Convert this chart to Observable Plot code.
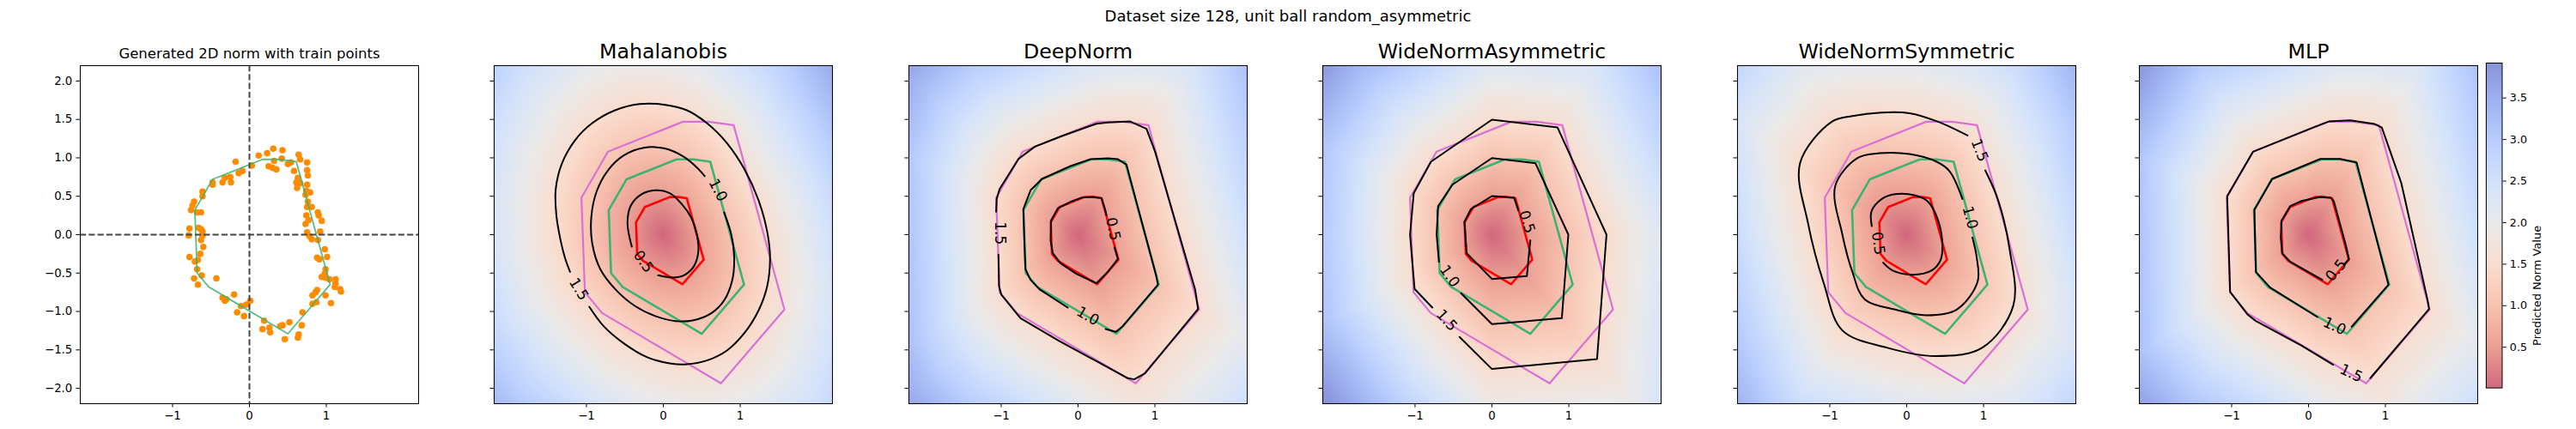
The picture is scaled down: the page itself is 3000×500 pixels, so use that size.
<!DOCTYPE html>
<html><head><meta charset="utf-8">
<script src="https://cdn.jsdelivr.net/npm/d3@7"></script>
<script src="https://cdn.jsdelivr.net/npm/@observablehq/plot@0.6"></script>
<style>
body{margin:0;background:#fff;font-family:"DejaVu Sans",sans-serif;}
#fig{position:relative;width:3000px;height:500px;overflow:hidden;}
.panel{position:absolute;top:0;}
.panel svg{overflow:visible;}
#suptitle{position:absolute;left:0;width:3000px;top:10px;text-align:center;font-size:18px;line-height:18px;font-family:"DejaVu Sans";}
</style></head><body>
<div id="fig"><div id="suptitle">Dataset size 128, unit ball random_asymmetric</div></div>
<script>
// ---------- data ----------
const suptitle = "Dataset size 128, unit ball random_asymmetric";
const panelTitles = ["Generated 2D norm with train points","Mahalanobis","DeepNorm","WideNormAsymmetric","WideNormSymmetric","MLP"];
const levels = [0.5, 1.0, 1.5];
const axisTicksX = [-1, 0, 1];
const axisTicksY = [-2, -1.5, -1, -0.5, 0, 0.5, 1, 1.5, 2];
const cbarTicks = [0.5, 1.0, 1.5, 2.0, 2.5, 3.0, 3.5];
const cbarDomain = [0.01, 3.92];
const cbarLabel = "Predicted Norm Value";

// true unit ball (level 1.0) of the generated norm
const unitBall = [[-0.48,0.72],[0.17,0.98],[0.39,0.98],[0.61,0.95],[1.05,-0.65],[0.50,-1.29],[-0.53,-0.68],[-0.68,-0.50],[-0.71,0.32]];

const trainPoints = [[-0.18,0.95],[0.12,1.03],[0.23,1.06],[0.31,1.12],[0.43,1.10],[0.64,1.04],[0.66,0.98],[0.75,0.94],[0.03,0.90],[0.32,0.96],[0.42,0.99],[0.25,0.89],[0.30,0.87],[0.35,0.85],[0.50,0.92],[0.54,0.94],[0.58,0.83],[0.75,0.84],[0.76,0.77],[0.63,0.74],[0.61,0.68],[0.66,0.67],[0.62,0.61],[0.75,0.65],[0.74,0.57],[0.79,0.55],[0.73,0.52],[0.76,0.43],[0.75,0.36],[0.81,0.36],[0.74,0.25],[0.77,0.19],[0.89,0.29],[0.90,0.25],[0.94,0.18],[0.73,0.14],[0.92,0.04],[0.75,0.03],[0.78,-0.02],[0.81,-0.06],[0.89,-0.07],[0.98,-0.19],[0.88,-0.30],[0.91,-0.32],[1.01,-0.29],[0.99,-0.45],[0.98,-0.51],[0.94,-0.55],[0.99,-0.56],[1.04,-0.58],[1.12,-0.58],[1.12,-0.63],[1.11,-0.68],[1.18,-0.71],[1.19,-0.74],[1.06,-0.89],[0.99,-0.79],[0.88,-0.72],[0.86,-0.75],[0.82,-0.79],[0.87,-0.88],[0.82,-0.90],[0.69,-1.01],[0.68,-1.18],[0.64,-1.30],[0.63,-1.34],[0.52,-1.14],[0.43,-1.18],[0.40,-1.19],[0.46,-1.36],[0.19,-1.12],[0.17,-1.23],[0.26,-1.21],[0.27,-1.27],[0.01,-0.86],[-0.04,-0.91],[-0.07,-1.06],[-0.16,-1.01],[-0.11,-0.93],[-0.20,-0.78],[-0.30,-0.84],[-0.32,-0.86],[-0.35,-0.82],[-0.43,-0.57],[-0.62,-0.53],[-0.72,-0.57],[-0.67,-0.65],[-0.68,-0.45],[-0.71,-0.35],[-0.67,-0.33],[-0.64,-0.25],[-0.78,-0.29],[-0.60,-0.16],[-0.63,-0.07],[-0.61,-0.01],[-0.79,-0.01],[-0.78,0.08],[-0.61,0.04],[-0.63,0.07],[-0.66,0.09],[-0.63,0.29],[-0.68,0.29],[-0.74,0.38],[-0.76,0.32],[-0.72,0.43],[-0.61,0.56],[-0.61,0.50],[-0.48,0.68],[-0.48,0.65],[-0.35,0.68],[-0.32,0.74],[-0.25,0.75],[-0.24,0.68],[-0.14,0.80],[-0.09,0.83]];

// predicted contours (levels 0.5, 1.0, 1.5), open where the label sits
const mahalanobisContours = [
 [[-0.41,-0.156],[-0.466,0.149],[-0.422,0.38],[-0.291,0.521],[-0.104,0.577],[0.082,0.54],[0.231,0.409],[0.362,0.223],[0.437,0.0],[0.455,-0.223],[0.399,-0.409],[0.269,-0.528],[0.119,-0.558],[-0.067,-0.528]],
 [[0.791,0.29],[0.884,0.0],[0.922,-0.298],[0.896,-0.595],[0.791,-0.856],[0.623,-1.023],[0.381,-1.116],[0.157,-1.124],[-0.104,-1.06],[-0.366,-0.93],[-0.627,-0.707],[-0.821,-0.447],[-0.925,-0.112],[-0.937,0.223],[-0.869,0.558],[-0.72,0.837],[-0.515,1.031],[-0.254,1.131],[0.007,1.124],[0.269,1.012],[0.455,0.856],[0.537,0.763]],
 [[-0.963,-0.938],[-0.776,-1.191],[-0.515,-1.414],[-0.216,-1.593],[0.082,-1.674],[0.306,-1.686],[0.567,-1.637],[0.828,-1.507],[1.052,-1.284],[1.239,-0.986],[1.351,-0.67],[1.388,-0.298],[1.351,0.037],[1.239,0.447],[1.052,0.856],[0.828,1.191],[0.567,1.451],[0.306,1.619],[0.007,1.693],[-0.31,1.7],[-0.627,1.619],[-0.925,1.451],[-1.149,1.228],[-1.317,0.93],[-1.399,0.595],[-1.392,0.26],[-1.336,-0.074],[-1.28,-0.298],[-1.213,-0.484]]
];
const deepNormContours = [
 [[0.473,-0.167],[0.518,-0.316],[0.387,-0.484],[0.238,-0.633],[-0.022,-0.51],[-0.227,-0.372],[-0.328,-0.242],[-0.358,-0.074],[-0.35,0.186],[-0.264,0.342],[-0.097,0.428],[0.052,0.484],[0.201,0.491],[0.305,0.476],[0.35,0.335],[0.369,0.253]],
 [[0.358,-1.228],[0.492,-1.265],[0.574,-1.198],[1.039,-0.651],[1.013,-0.521],[0.629,0.912],[0.518,0.982],[0.387,0.993],[0.164,0.982],[-0.097,0.893],[-0.469,0.726],[-0.618,0.577],[-0.711,0.335],[-0.7,-0.037],[-0.685,-0.447],[-0.618,-0.588],[-0.499,-0.714],[-0.134,-0.949]],
 [[-1.035,-0.26],[-1.028,-0.67],[-0.998,-0.781],[-0.749,-1.087],[-0.246,-1.384],[0.648,-1.868],[0.73,-1.883],[0.871,-1.805],[1.561,-0.967],[1.523,-0.714],[1.002,1.079],[0.89,1.377],[0.678,1.473],[0.387,1.459],[0.238,1.444],[-0.209,1.284],[-0.562,1.146],[-0.775,0.986],[-1.02,0.595],[-1.058,0.465],[-1.065,0.298]]
];
const wideAsymContours = [
 [[0.499,-0.074],[0.454,-0.54],[0.0,-0.577],[-0.328,-0.242],[-0.358,0.167],[-0.272,0.335],[0.0,0.502],[0.287,0.484],[0.343,0.316]],
 [[-0.402,-0.763],[0.0,-1.165],[0.909,-1.087],[0.994,0.0],[0.566,0.93],[0.0,0.997],[-0.514,0.651],[-0.7,0.372],[-0.719,0.0],[-0.689,-0.353]],
 [[-0.421,-1.332],[0.0,-1.749],[1.367,-1.619],[1.49,0.0],[0.853,1.395],[0.0,1.496],[-0.793,0.949],[-1.017,0.54],[-1.065,0.0],[-1.006,-0.707],[-0.775,-0.949]]
];
const wideSymContours = [
 [[-0.305,-0.365],[-0.186,-0.465],[0.074,-0.521],[0.327,-0.465],[0.439,-0.335],[0.465,-0.149],[0.409,0.186],[0.279,0.428],[0.112,0.51],[-0.149,0.528],[-0.323,0.465],[-0.457,0.305],[-0.454,0.112]],
 [[0.855,-0.037],[0.911,-0.298],[0.922,-0.614],[0.651,-0.975],[0.26,-1.049],[-0.149,-0.975],[-0.55,-0.837],[-0.706,-0.484],[-0.836,0.0],[-0.929,0.633],[-0.639,0.997],[-0.353,1.06],[0.037,1.049],[0.39,0.949],[0.558,0.826],[0.725,0.465]],
 [[1.022,0.837],[1.19,0.447],[1.338,-0.186],[1.387,-0.923],[0.985,-1.47],[0.372,-1.581],[-0.26,-1.47],[-0.836,-1.247],[-1.078,-0.633],[-1.283,0.149],[-1.387,0.93],[-0.974,1.47],[-0.706,1.544],[-0.335,1.589],[0.037,1.581],[0.409,1.47],[0.792,1.291]]
];
const mlpContours = [
 [[0.462,-0.391],[0.525,-0.316],[0.488,-0.149],[0.328,0.439],[0.283,0.484],[0.153,0.491],[-0.089,0.439],[-0.238,0.372],[-0.35,0.186],[-0.361,-0.037],[-0.343,-0.242],[-0.238,-0.353],[0.179,-0.588]],
 [[0.562,-1.198],[1.039,-0.651],[0.626,0.938],[0.413,0.986],[0.153,0.986],[-0.473,0.726],[-0.704,0.324],[-0.685,-0.484],[-0.499,-0.689],[0.115,-1.072]],
 [[0.804,-1.868],[1.568,-0.967],[1.549,-0.856],[1.207,0.67],[0.953,1.395],[0.86,1.44],[0.544,1.488],[0.264,1.473],[0.06,1.395],[-0.723,1.079],[-1.058,0.502],[-1.039,-0.112],[-1.02,-0.744],[-0.79,-1.042],[-0.685,-1.124],[-0.089,-1.444],[0.32,-1.693]]
];
// contour labels: x, y, text, rotation
const mahalanobisLabels = [[-0.26,-0.35,"0.5",55],[0.71,0.58,"1.0",62],[-1.10,-0.71,"1.5",58]];
const deepNormLabels = [[0.454,0.074,"0.5",78],[0.127,-1.06,"1.0",30],[-1.017,0.019,"1.5",90]];
const wideAsymLabels = [[0.454,0.167,"0.5",72],[-0.551,-0.54,"1.0",55],[-0.588,-1.116,"1.5",48]];
const wideSymLabels = [[-0.372,-0.112,"0.5",82],[0.825,0.223,"1.0",75],[0.948,1.098,"1.5",68]];
const mlpLabels = [[0.358,-0.465,"0.5",-50],[0.339,-1.191,"1.0",25],[0.555,-1.805,"1.5",25]];

// ---------- styling / layout ----------
const FONT = "DejaVu Sans";
const frameLefts = [93.3, 575.3, 1058.3, 1540.3, 2023.3, 2491];
const FW = 394, ML = 60, MR = 20, MT = 76, MB = 30, H = 500;
const levelColors = ["#ff0000", "#3cb371", "#da70d6"];
const coolwarm = ["#3b4cc0","#6282ea","#8db0fe","#b8d0f9","#dddcdc","#f5c4ac","#f49a7b","#de604d","#b40426"];
const ramp = d3.piecewise(d3.interpolateRgb, coolwarm.slice().reverse().map(c => d3.interpolateRgb("#ffffff", c)(0.6)));
const colorScale = {type: "linear", domain: cbarDomain, interpolate: ramp, clamp: true};

function gaugeOf(poly) {
  const n = poly.length;
  return (x, y) => {
    let g = 0;
    for (let i = 0; i < n; i++) {
      const a = poly[i], b = poly[(i + 1) % n];
      const dx = b[0] - a[0], dy = b[1] - a[1];
      const cpd = x * dy - y * dx;
      if (cpd === 0) continue;
      const s = (a[0] * y - a[1] * x) / cpd;
      if (s < 0 || s > 1) continue;
      const gi = cpd / (a[0] * dy - a[1] * dx);
      if (gi > g) g = gi;
    }
    return g;
  };
}
const closed = pts => pts.concat([pts[0]]);
const toXY = pts => pts.map(p => ({x: p[0], y: p[1]}));

function baseOptions(marks, yLabels) {
  return {
    width: FW + ML + MR, height: H, marginLeft: ML, marginRight: MR, marginTop: MT, marginBottom: MB,
    style: {fontFamily: FONT, fontSize: "13.3px", background: "transparent", overflow: "visible"},
    x: {domain: [-2.2, 2.2]},
    y: {domain: [-2.2, 2.2]},
    color: colorScale,
    marks: [
      ...marks,
      Plot.frame({stroke: "black", strokeWidth: 1.05}),
      Plot.axisX({ticks: axisTicksX, tickFormat: d3.format("d"), tickSize: 4.6, tickPadding: 4.6, label: null, fontSize: 13.3}),
      Plot.axisY({ticks: axisTicksY, tickFormat: yLabels ? d3.format(".1f") : () => "", tickSize: 4.6, tickPadding: 4.6, label: null, fontSize: 13.3})
    ]
  };
}

function place(svg, left) {
  const div = document.createElement("div");
  div.className = "panel";
  div.style.left = left + "px";
  div.appendChild(svg);
  document.getElementById("fig").appendChild(div);
}

// panel 1: generated norm with train points
{
  const marks = [
    Plot.dot(toXY(trainPoints), {x: "x", y: "y", r: 3.8, fill: "#ff8c00"}),
    Plot.line(toXY(closed(unitBall)), {x: "x", y: "y", stroke: "#3cb371", strokeWidth: 1.8, strokeOpacity: 0.85}),
    Plot.ruleX([0], {stroke: "#444", strokeWidth: 1.95, strokeDasharray: "7.2,3.1"}),
    Plot.ruleY([0], {stroke: "#444", strokeWidth: 1.95, strokeDasharray: "7.2,3.1"}),
    Plot.text([panelTitles[0]], {frameAnchor: "top", dy: -8.3, lineAnchor: "bottom", fontSize: 16.5, fill: "black"})
  ];
  place(Plot.plot(baseOptions(marks, true)), frameLefts[0] - ML);
}

const models = [
  {contours: mahalanobisContours, labels: mahalanobisLabels, curve: "catmull-rom"},
  {contours: deepNormContours, labels: deepNormLabels, curve: "linear"},
  {contours: wideAsymContours, labels: wideAsymLabels, curve: "linear"},
  {contours: wideSymContours, labels: wideSymLabels, curve: "catmull-rom"},
  {contours: mlpContours, labels: mlpLabels, curve: "linear"}
];

models.forEach((m, k) => {
  const gauge = gaugeOf(m.contours[1]);
  const marks = [
    Plot.raster({fill: gauge, x1: -2.2, y1: -2.2, x2: 2.2, y2: 2.2, pixelSize: 1}),
    ...levels.map((l, i) => Plot.line(toXY(closed(unitBall)).map(p => ({x: p.x * l, y: p.y * l})), {x: "x", y: "y", stroke: levelColors[i], strokeWidth: i === 2 ? 2.2 : 2.6})),
    ...m.contours.map(c => Plot.line(toXY(c), {x: "x", y: "y", stroke: "black", strokeWidth: 2, curve: m.curve})),
    Plot.text(m.labels, {x: d => d[0], y: d => d[1], text: d => d[2], rotate: d => d[3], fontSize: 17, fill: "black"}),
    Plot.text([panelTitles[k + 1]], {frameAnchor: "top", dy: -8.3, lineAnchor: "bottom", fontSize: 23.7, fill: "black"})
  ];
  place(Plot.plot(baseOptions(marks, false)), frameLefts[k + 1] - ML);
});

// colorbar
{
  const cbLeft = 2895, cbW = 19.3, cbML = 1, cbMR = 90;
  const svg = Plot.plot({
    width: cbW + cbML + cbMR, height: H, marginLeft: cbML, marginRight: cbMR, marginTop: MT, marginBottom: MB,
    style: {fontFamily: FONT, fontSize: "13.3px", background: "transparent", overflow: "visible"},
    x: {domain: [0, 1], axis: null},
    y: {domain: cbarDomain},
    color: colorScale,
    marks: [
      Plot.raster({fill: (x, y) => y, x1: 0, x2: 1, y1: cbarDomain[0], y2: cbarDomain[1], pixelSize: 1}),
      Plot.frame({stroke: "black", strokeWidth: 1.05}),
      Plot.axisY({anchor: "right", ticks: cbarTicks, tickFormat: d3.format(".1f"), tickSize: 4.6, tickPadding: 4.6, label: null, fontSize: 13.3}),
      Plot.text([cbarLabel], {frameAnchor: "right", rotate: -90, dx: 47, lineAnchor: "bottom", fontSize: 13.5, fill: "black"})
    ]
  });
  place(svg, cbLeft - cbML);
}
</script>
</body></html>
